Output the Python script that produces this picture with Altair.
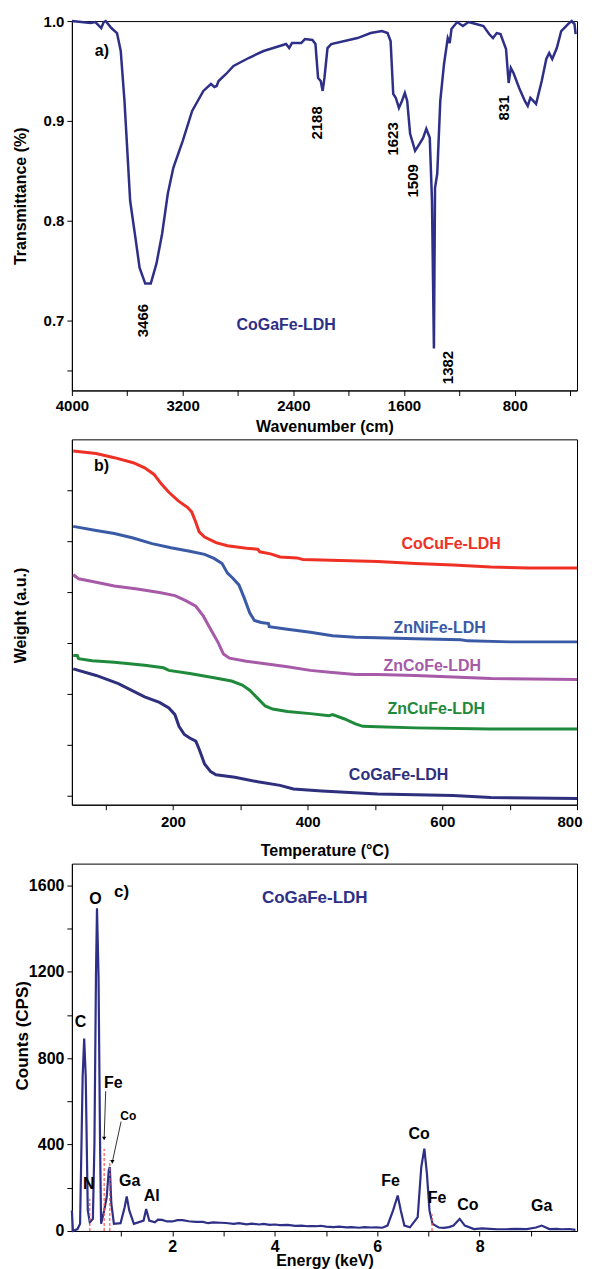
import altair as alt
import pandas as pd

FONT = "Liberation Sans"
NAVY = "#2e2f86"

# ---------------- Panel a : FTIR ----------------
ftir_wavenumber = [4000, 3932, 3864, 3830, 3788, 3770, 3756, 3715, 3674, 3647, 3620, 3579, 3538, 3511,
                   3470, 3430, 3389, 3348, 3307, 3267, 3199, 3131, 3050, 2995, 2970, 2954, 2940, 2886,
                   2832, 2723, 2615, 2452, 2430, 2410, 2343, 2316, 2262, 2240, 2221, 2202, 2188, 2175,
                   2153, 2126, 1936, 1841, 1760, 1719, 1697, 1678, 1659, 1637, 1615, 1594, 1577, 1556,
                   1520, 1488, 1462, 1439, 1414, 1398, 1384, 1376, 1360, 1338, 1311, 1284, 1270, 1257,
                   1216, 1175, 1134, 1080, 1026, 985, 957, 930, 903, 863, 844, 828, 809, 768, 727, 706,
                   687, 666, 646, 605, 572, 551, 529, 496, 464, 415, 388, 368, 360]
ftir_transmittance = [1.000, 0.999, 0.998, 0.999, 0.993, 0.999, 1.000, 0.993, 0.988, 0.970, 0.920, 0.820,
                      0.780, 0.753, 0.737, 0.737, 0.757, 0.787, 0.827, 0.853, 0.880, 0.910, 0.930, 0.937,
                      0.934, 0.935, 0.940, 0.947, 0.955, 0.963, 0.970, 0.977, 0.973, 0.978, 0.978, 0.982,
                      0.981, 0.977, 0.943, 0.940, 0.930, 0.943, 0.973, 0.977, 0.983, 0.988, 0.990, 0.988,
                      0.980, 0.927, 0.923, 0.913, 0.920, 0.928, 0.920, 0.887, 0.870, 0.877, 0.883, 0.892,
                      0.883, 0.820, 0.672, 0.833, 0.847, 0.920, 0.957, 0.983, 0.978, 0.992, 0.999, 0.995,
                      0.999, 0.997, 0.995, 0.987, 0.983, 0.988, 0.987, 0.972, 0.938, 0.953, 0.948, 0.933,
                      0.920, 0.915, 0.923, 0.920, 0.917, 0.940, 0.962, 0.968, 0.962, 0.973, 0.990, 0.997,
                      1.000, 0.997, 0.987]
ftir_peak_labels = ["3466", "2188", "1623", "1509", "1382", "831"]
ftir_peak_x = [3484, 2226, 1678, 1537, 1284, 877]
ftir_peak_y = [0.700, 0.898, 0.882, 0.840, 0.653, 0.913]

# ---------------- Panel b : TGA ----------------
tga_series = ["CoCuFe-LDH", "ZnNiFe-LDH", "ZnCoFe-LDH", "ZnCuFe-LDH", "CoGaFe-LDH"]
tga_colors = ["#ee3124", "#3b5aa6", "#a65aa8", "#1f8a3c", "#2e2f7d"]
tga_temp = {
    "CoCuFe-LDH": [52, 86, 113, 141, 158, 172, 183, 194, 208, 222, 228, 234, 239, 247, 264, 281, 309,
                   326, 329, 345, 359, 384, 393, 448, 504, 560, 616, 672, 728, 800],
    "ZnNiFe-LDH": [52, 86, 113, 141, 169, 197, 225, 247, 261, 273, 281, 289, 298, 306, 314, 321, 331,
                   342, 343, 370, 404, 437, 471, 504, 560, 627, 638, 700, 800],
    "ZnCoFe-LDH": [52, 60, 86, 113, 147, 180, 203, 219, 234, 245, 256, 267, 275, 284, 309, 337, 370,
                   404, 437, 471, 504, 560, 616, 672, 800],
    "ZnCuFe-LDH": [52, 58, 60, 80, 113, 158, 186, 194, 225, 259, 287, 303, 314, 326, 337, 348, 370,
                   404, 432, 437, 454, 471, 482, 504, 560, 672, 800],
    "CoGaFe-LDH": [52, 86, 119, 158, 180, 194, 203, 209, 217, 225, 234, 239, 247, 256, 264, 292, 326,
                   359, 379, 421, 504, 616, 672, 800],
}
tga_weight = {
    "CoCuFe-LDH": [7.77, 7.72, 7.64, 7.54, 7.44, 7.31, 7.12, 6.96, 6.79, 6.66, 6.57, 6.37, 6.18, 6.08,
                   5.97, 5.91, 5.86, 5.84, 5.79, 5.75, 5.69, 5.67, 5.64, 5.62, 5.60, 5.56, 5.53, 5.49,
                   5.47, 5.47],
    "ZnNiFe-LDH": [6.29, 6.21, 6.15, 6.06, 5.95, 5.87, 5.80, 5.74, 5.66, 5.56, 5.37, 5.27, 5.14, 4.88,
                   4.59, 4.44, 4.40, 4.38, 4.32, 4.27, 4.21, 4.14, 4.11, 4.10, 4.08, 4.06, 4.04, 4.02,
                   4.02],
    "ZnCoFe-LDH": [5.34, 5.26, 5.19, 5.12, 5.06, 4.99, 4.93, 4.83, 4.72, 4.53, 4.27, 4.01, 3.78, 3.70,
                   3.64, 3.59, 3.53, 3.46, 3.42, 3.38, 3.38, 3.36, 3.33, 3.30, 3.28],
    "ZnCuFe-LDH": [3.75, 3.75, 3.69, 3.65, 3.62, 3.56, 3.51, 3.46, 3.40, 3.32, 3.25, 3.17, 3.07, 2.91,
                   2.76, 2.70, 2.65, 2.61, 2.57, 2.59, 2.51, 2.41, 2.36, 2.35, 2.33, 2.31, 2.31],
    "CoGaFe-LDH": [3.49, 3.36, 3.20, 2.94, 2.83, 2.72, 2.59, 2.36, 2.20, 2.13, 2.07, 1.91, 1.62, 1.47,
                   1.41, 1.36, 1.27, 1.20, 1.13, 1.09, 1.03, 1.00, 0.96, 0.94],
}
tga_label_x = [613, 596, 585, 591, 535]
tga_label_y = [5.95, 4.30, 3.54, 2.70, 1.40]

# ---------------- Panel c : EDS ----------------
eds_energy = [0.04, 0.06, 0.15, 0.20, 0.25, 0.28, 0.31, 0.35, 0.39, 0.45, 0.48, 0.51, 0.53, 0.56, 0.59,
              0.61, 0.67, 0.72, 0.76, 0.78, 0.81, 0.86, 0.99, 1.07, 1.11, 1.16, 1.25, 1.44, 1.49, 1.55,
              1.66, 1.72, 1.80, 1.90, 2.00, 2.10, 2.20, 2.32, 2.45, 2.60, 2.70, 2.80, 2.95, 3.05, 3.20,
              3.30, 3.45, 3.55, 3.70, 3.78, 3.90, 4.00, 4.10, 4.25, 4.40, 4.52, 4.65, 4.80, 4.90, 5.00,
              5.15, 5.25, 5.40, 5.50, 5.65, 5.75, 5.88, 5.98, 6.10, 6.20, 6.31, 6.40, 6.46, 6.53, 6.64,
              6.79, 6.86, 6.92, 6.97, 7.02, 7.08, 7.20, 7.30, 7.40, 7.49, 7.61, 7.71, 7.89, 8.05, 8.20,
              8.35, 8.50, 8.70, 8.92, 9.10, 9.21, 9.36, 9.50, 9.60, 9.75, 9.87]
eds_counts = [95, 0, 9, 33, 715, 890, 715, 95, 40, 56, 405, 1180, 1493, 1180, 405, 33, 95, 157, 281,
              296, 126, 33, 36, 110, 160, 95, 33, 48, 102, 48, 40, 52, 51, 44, 44, 50, 50, 45, 42, 42,
              36, 40, 38, 37, 33, 36, 31, 34, 30, 33, 28, 30, 27, 28, 24, 25, 22, 22, 24, 20, 18, 20, 17,
              18, 15, 18, 16, 17, 15, 25, 95, 164, 95, 25, 17, 64, 296, 381, 265, 95, 33, 16, 14, 18, 25,
              56, 25, 9, 12, 10, 8, 8, 10, 9, 16, 25, 9, 10, 8, 9, 5]
eds_el_labels = ["C", "O", "N", "Ga", "Al", "Fe", "Co", "Fe", "Co", "Ga"]
eds_el_x = [0.21, 0.50, 0.37, 1.17, 1.60, 6.26, 6.82, 7.17, 7.77, 9.21]
eds_el_y = [967, 1535, 219, 233, 164, 233, 447, 153, 121, 116]
eds_line_x = [0.39, 0.67, 0.78, 7.07]
eds_line_top = [149, 381, 326, 79]
eds_arrow_x1 = [0.70, 1.00]
eds_arrow_y1 = [647, 506]
eds_arrow_x2 = [0.67, 0.83]
eds_arrow_y2 = [428, 320]

W = 506

# ---------- panel a ----------
df_a = pd.DataFrame({"w": ftir_wavenumber, "t": ftir_transmittance})
xa = alt.X("w:Q", scale=alt.Scale(domain=[350, 4000], reverse=True, nice=False, zero=False),
           axis=alt.Axis(values=[4000, 3600, 3200, 2800, 2400, 2000, 1600, 1200, 800, 400], format="d",
                         labelExpr="datum.value % 800 == 0 ? datum.label : ''",
                         title="Wavenumber (cm)", labelFontSize=15, titleFontSize=16,
                         labelPadding=3, titleY=36, titleBaseline="middle"))
ya = alt.Y("t:Q", scale=alt.Scale(domain=[0.63, 1.0], nice=False, zero=False),
           axis=alt.Axis(values=[0.65, 0.7, 0.8, 0.9, 1.0], format=".1f",
                         labelExpr="datum.value < 0.68 ? '' : datum.label",
                         title="Transmittance (%)", labelFontSize=15, titleFontSize=16,
                         labelPadding=3, titleX=-51, titleY=175, titleBaseline="middle"))
line_a = alt.Chart(df_a).mark_line(color=NAVY, strokeWidth=2.5).encode(x=xa, y=ya)
df_a_lab = pd.DataFrame({"w": ftir_peak_x, "t": ftir_peak_y, "lab": ftir_peak_labels})
peaks_a = alt.Chart(df_a_lab).mark_text(angle=270, font=FONT, fontWeight="bold", fontSize=15,
                                         color="black", align="center", baseline="middle").encode(
    x="w:Q", y="t:Q", text="lab:N")
txt_a = alt.Chart(pd.DataFrame({"w": [3783, 2452], "t": [0.970, 0.696],
                                "lab": ["a)", "CoGaFe-LDH"], "c": ["black", NAVY], "s": [16, 16]})).mark_text(
    font=FONT, fontWeight="bold", align="center", baseline="middle").encode(
    x="w:Q", y="t:Q", text="lab:N", color=alt.Color("c:N", scale=None), size=alt.Size("s:Q", scale=None))
panel_a = alt.layer(line_a, peaks_a, txt_a).properties(width=W, height=370)

# ---------- panel b ----------
rows = []
for s in tga_series:
    for t, w in zip(tga_temp[s], tga_weight[s]):
        rows.append({"series": s, "temp": t, "weight": w})
df_b = pd.DataFrame(rows)
xb = alt.X("temp:Q", scale=alt.Scale(domain=[50, 800], nice=False, zero=False),
           axis=alt.Axis(values=[100, 200, 300, 400, 500, 600, 700, 800], format="d",
                         labelExpr="datum.value % 200 == 0 ? datum.label : ''",
                         title="Temperature (°C)", labelFontSize=15, titleFontSize=16,
                         labelPadding=5, labelFlush=True, labelFlushOffset=5,
                         titleY=46, titleBaseline="middle"))
yb = alt.Y("weight:Q", scale=alt.Scale(domain=[0.82, 8.0], nice=False, zero=False),
           axis=alt.Axis(values=[1, 2, 3, 4, 5, 6, 7], labels=False, title="Weight (a.u.)",
                         titleFontSize=16, titleX=-51, titleY=176, titleBaseline="middle"))
cscale = alt.Scale(domain=tga_series, range=tga_colors)
line_b = alt.Chart(df_b).mark_line(strokeWidth=3).encode(
    x=xb, y=yb, color=alt.Color("series:N", scale=cscale, legend=None), detail="series:N")
df_b_lab = pd.DataFrame({"temp": tga_label_x, "weight": tga_label_y, "series": tga_series})
lab_b = alt.Chart(df_b_lab).mark_text(font=FONT, fontWeight="bold", fontSize=16, align="center",
                                      baseline="middle").encode(
    x="temp:Q", y="weight:Q", text="series:N", color=alt.Color("series:N", scale=cscale, legend=None))
b_tag = alt.Chart(pd.DataFrame({"temp": [94], "weight": [7.47], "lab": ["b)"]})).mark_text(
    font=FONT, fontWeight="bold", fontSize=16, color="black", align="center", baseline="middle").encode(
    x="temp:Q", y="weight:Q", text="lab:N")
panel_b = alt.layer(line_b, lab_b, b_tag).properties(width=W, height=366)

# ---------- panel c ----------
df_c = pd.DataFrame({"e": eds_energy, "c": eds_counts})
xc = alt.X("e:Q", scale=alt.Scale(domain=[0.04, 9.9], nice=False, zero=False),
           axis=alt.Axis(values=[1, 2, 3, 4, 5, 6, 7, 8, 9], format="d",
                         labelExpr="datum.value % 2 == 0 ? datum.label : ''",
                         title="Energy (keV)", labelFontSize=16, titleFontSize=16,
                         labelPadding=3, titleY=30, titleBaseline="middle"))
yc = alt.Y("c:Q", scale=alt.Scale(domain=[0, 1700], nice=False),
           axis=alt.Axis(values=[0, 200, 400, 600, 800, 1000, 1200, 1400, 1600], format="d",
                         labelExpr="datum.value % 400 == 0 ? datum.label : ''",
                         title="Counts (CPS)", labelFontSize=16, titleFontSize=17,
                         labelPadding=3, titleX=-49, titleY=172, titleBaseline="middle"))
df_dash = pd.DataFrame({"e": eds_line_x, "c": [0] * len(eds_line_x), "c2": eds_line_top})
dash_c = alt.Chart(df_dash).mark_rule(color="#ff5555", strokeDash=[3, 2], strokeWidth=1.2).encode(
    x="e:Q", y="c:Q", y2="c2:Q")
line_c = alt.Chart(df_c).mark_line(color=NAVY, strokeWidth=2.2).encode(x=xc, y=yc)
df_arrow = pd.DataFrame({"e": eds_arrow_x1, "c": eds_arrow_y1, "e2": eds_arrow_x2, "c2": eds_arrow_y2})
arrow_c = alt.Chart(df_arrow).mark_rule(color="black", strokeWidth=0.8).encode(
    x="e:Q", y="c:Q", x2="e2:Q", y2="c2:Q")
head_c = alt.Chart(df_arrow).mark_point(shape="triangle-down", filled=True, color="black", size=18,
                                        opacity=1).encode(x="e2:Q", y="c2:Q")
df_el = pd.DataFrame({"e": eds_el_x, "c": eds_el_y, "lab": eds_el_labels})
el_c = alt.Chart(df_el).mark_text(font=FONT, fontWeight="bold", fontSize=16, color="black",
                                  align="center", baseline="middle").encode(x="e:Q", y="c:Q", text="lab:N")
extra_c = alt.Chart(pd.DataFrame({"e": [0.85, 1.14, 1.01, 4.78], "c": [684, 532, 1567, 1540],
                                  "lab": ["Fe", "Co", "c)", "CoGaFe-LDH"],
                                  "col": ["black", "black", "black", NAVY],
                                  "s": [16, 12, 17, 17]})).mark_text(
    font=FONT, fontWeight="bold", align="center", baseline="middle").encode(
    x="e:Q", y="c:Q", text="lab:N", color=alt.Color("col:N", scale=None), size=alt.Size("s:Q", scale=None))
panel_c = alt.layer(line_c, dash_c, arrow_c, head_c, el_c, extra_c).properties(width=W, height=368)

chart = alt.vconcat(panel_a, panel_b, panel_c, spacing=3).properties(
    padding={"left": 4, "top": 4, "right": 0, "bottom": 0}
).configure_axis(
    grid=False, labelFont=FONT, titleFont=FONT, labelFontWeight="bold", titleFontWeight="bold",
    labelColor="black", titleColor="black", domainColor="black", tickColor="black",
    tickSize=5, domainWidth=1, tickWidth=1, titleAngle=0, labelFlush=False
).configure_axisY(titleAngle=270).configure_view(stroke="black", strokeWidth=1)

chart.save("out.html", embed_options={"renderer": "svg", "actions": False})
